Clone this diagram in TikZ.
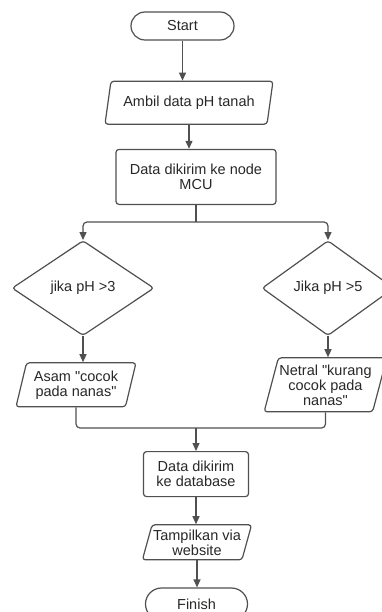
\documentclass[tikz,border=0pt]{standalone}
\usepackage{fontspec}
\setmainfont{Liberation Sans}[Ligatures=TeXOff]
\usepackage{xcolor}
\definecolor{LineGray}{RGB}{80,80,80}
\definecolor{TextGray}{RGB}{40,40,40}
\usetikzlibrary{
  shapes.geometric, shapes.misc,
  arrows.meta, positioning
}
\tikzset{
  % Generic process box
  procbox/.style={
    rectangle, rounded corners=3pt,
    draw=LineGray, line width=1.2pt,
    fill=white, text=TextGray,
    align=center,
    font=\fontsize{14.5}{15}\selectfont,
    inner sep=3pt
  },
  % Start / finish pill
  termbox/.style={procbox, rounded rectangle, sharp corners},
  % Input / output parallelogram
  iobox/.style={
    procbox, trapezium,
    trapezium left angle=73, trapezium right angle=107,
    trapezium stretches body, inner xsep=1pt
  },
  % Decision diamond
  decbox/.style={procbox, diamond, aspect=1.5, inner sep=1pt},
  % Connectors
  arr/.style={-{Triangle[length=8pt,width=7pt]}, line width=1.2pt, LineGray},
  conn/.style={line width=1.2pt, LineGray},
}
\begin{document}
\begin{tikzpicture}[x=1pt, y=1pt]
  \fill[white] (0,0) rectangle (382,-612);
  \useasboundingbox (0,0) rectangle (382,-612);

  %% Main column
  \node[termbox, minimum width=109pt, minimum height=28pt]
    (start) at (182.5,-26) {Start};
  \node[iobox, minimum width=168pt, minimum height=43pt, below=40pt of start, xshift=6.5pt]
    (ambil) {Ambil data pH tanah};
  \node[procbox, minimum width=160pt, minimum height=55pt, below=24pt of ambil, xshift=7pt]
    (mcu) {Data dikirim ke node\\MCU};

  %% Decisions
  \node[decbox, minimum width=142pt, minimum height=95pt, below=35pt of mcu, xshift=-113pt]
    (cekasam) {jika pH >3};
  \node[decbox, minimum width=132pt, minimum height=95pt, below=35pt of mcu, xshift=132pt]
    (ceknetral) {Jika pH >5};

  %% Results
  \node[iobox, minimum width=120pt, minimum height=44pt, below=26pt of cekasam, xshift=-7pt]
    (asam) {Asam "cocok\\pada nanas"};
  \node[iobox, minimum width=114pt, minimum height=54pt, below=21pt of ceknetral, xshift=-2.5pt]
    (netral) {Netral "kurang\\cocok pada\\nanas"};

  %% Output column
  \node[procbox, minimum width=105pt, minimum height=45pt, below=246pt of mcu]
    (db) {Data dikirim\\ke database};
  \node[iobox, minimum width=103pt, minimum height=35pt, below=27pt of db, xshift=1pt]
    (web) {Tampilkan via\\website};
  \node[termbox, minimum width=108pt, minimum height=32pt, below=27pt of web, xshift=-0.5pt]
    (finish) {Finish};

  %% Split / join points
  \coordinate[below=17pt of mcu] (split);
  \coordinate[above=23pt of db] (join);

  %% Connectors
  \draw[arr] (start.south) -- (start.south |- ambil.north);
  \draw[arr] (ambil.south) -- (ambil.south |- mcu.north);
  \draw[conn] (mcu.south) -- (split);
  \draw[arr, rounded corners=4pt] (split) -| (cekasam.north);
  \draw[arr, rounded corners=4pt] (split) -| (ceknetral.north);
  \draw[arr] (cekasam.south) -- (cekasam.south |- asam.north);
  \draw[arr] (ceknetral.south) -- (ceknetral.south |- netral.north);
  \draw[conn, rounded corners=4pt] (asam.south) |- (join);
  \draw[conn, rounded corners=4pt] (netral.south) |- (join);
  \draw[arr] (join) -- (db.north);
  \draw[arr] (db.south) -- (db.south |- web.north);
  \draw[arr] (web.south) -- (web.south |- finish.north);

\end{tikzpicture}
\end{document}
